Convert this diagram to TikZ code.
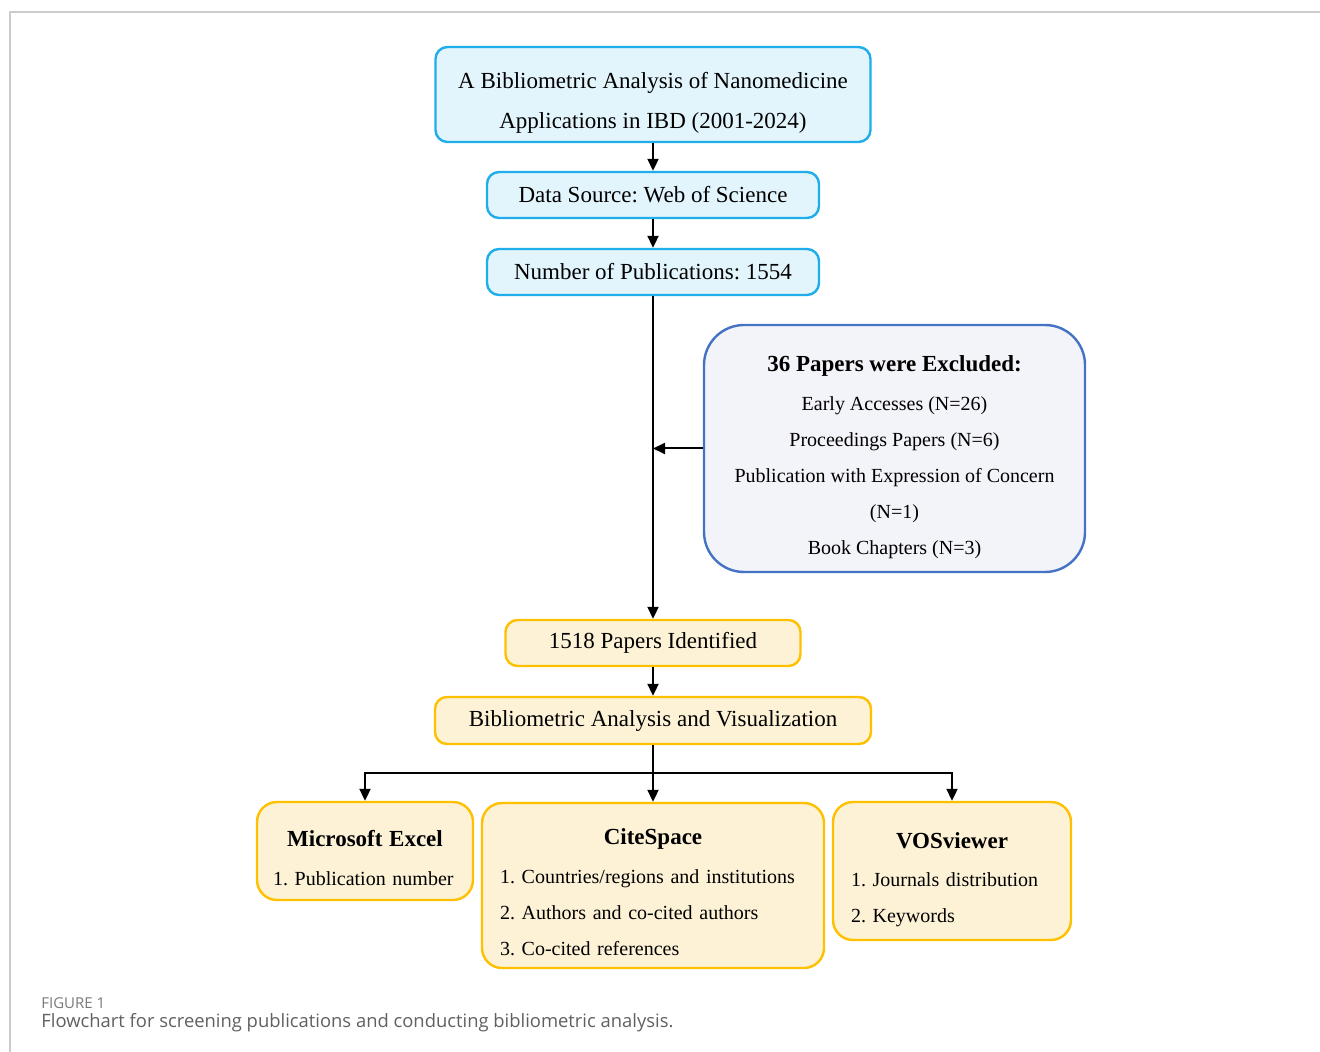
\documentclass[tikz,border=0pt]{standalone}
\usepackage{fontspec}
\setmainfont{Liberation Serif}
\newfontfamily\captionfont{Open Sans}
\usetikzlibrary{positioning}
\usetikzlibrary{arrows.meta}
\definecolor{wosblue}{HTML}{1FAEEA}
\definecolor{wosfill}{HTML}{E2F4FC}
\definecolor{exclblue}{HTML}{4472C4}
\definecolor{exclfill}{HTML}{F3F3FA}
\definecolor{toolgold}{HTML}{FFC000}
\definecolor{toolfill}{HTML}{FDF2D6}
\definecolor{capgray}{HTML}{606060}
\newcommand{\topgap}[1]{\rule{0pt}{#1}}
\frenchspacing
\tikzset{
    bluebox/.style={draw=wosblue,fill=wosfill,line width=1.2pt,rounded corners=6pt,
        align=center,font=\fontsize{11.5}{20}\selectfont},
    goldbox/.style={draw=toolgold,fill=toolfill,line width=1.2pt,rounded corners=6pt,
        align=center,font=\fontsize{11.5}{20}\selectfont},
    toolbox/.style={goldbox,rounded corners=10pt,align=left,inner xsep=8pt,
        font=\fontsize{10}{18}\selectfont},
    flow/.style={-{Triangle[length=6pt,width=5.5pt]},line width=1pt},
}

\begin{document}
\begin{tikzpicture}[x=0.5pt,y=-0.5pt]
    \useasboundingbox (0,0) rectangle (1320,1052);
    \draw[black!20,line width=0.6pt] (1320,12) -- (10,12) -- (10,1052);

    % screening column
    \node[bluebox,minimum width=217.5pt,minimum height=47.5pt] (title) at (653,94.5)
        {\topgap{16.5pt}A Bibliometric Analysis of Nanomedicine\\Applications in IBD (2001-2024)};
    \node[bluebox,minimum width=166pt,minimum height=23pt] (source) at (653,195)
        {Data Source: Web of Science};
    \node[bluebox,minimum width=166pt,minimum height=23pt] (pubs) at (653,272)
        {Number of Publications: 1554};
    \node[goldbox,minimum width=147.5pt,minimum height=23pt] (found) at (653,643)
        {1518 Papers Identified};
    \node[goldbox,minimum width=218pt,minimum height=23.5pt] (bav) at (653,720.5)
        {Bibliometric Analysis and Visualization};

    \node[draw=exclblue,fill=exclfill,line width=1.2pt,rounded corners=20pt,
        minimum width=190.5pt,minimum height=123.5pt,align=center,
        font=\fontsize{10}{18}\selectfont] (excl) at (894.5,448.5)
        {\topgap{17pt}{\fontsize{11.5}{18}\selectfont\bfseries 36 Papers were Excluded:}\\[1.5pt]
         Early Accesses (N=26)\\
         Proceedings Papers (N=6)\\
         Publication with Expression of Concern\\
         (N=1)\\
         Book Chapters (N=3)};

    % tools
    \node[toolbox,minimum width=108pt,minimum height=49pt,text width=92pt] (excel) at (365,851)
        {\topgap{15pt}\makebox[\hsize]{\fontsize{11.5}{19}\selectfont\bfseries Microsoft Excel}\\[1.5pt]
         1. Publication number};
    \node[toolbox,minimum width=171pt,minimum height=82.5pt,text width=153pt,inner xsep=9pt] (cite) at (653,885.5)
        {\topgap{15pt}\makebox[\hsize]{\fontsize{11.5}{19}\selectfont\bfseries CiteSpace}\\[1.5pt]
         1. Countries/regions and institutions\\
         2. Authors and co-cited authors\\
         3. Co-cited references};
    \node[toolbox,minimum width=119pt,minimum height=69pt,text width=101pt,inner xsep=9pt] (vos) at (952,871)
        {\topgap{17pt}\makebox[\hsize]{\fontsize{11.5}{19}\selectfont\bfseries VOSviewer}\\[1pt]
         1. Journals distribution\\
         2. Keywords};

    \draw[flow] (title) -- (source);
    \draw[flow] (source) -- (pubs);
    \draw[flow] (pubs) -- (found);
    \draw[flow] (excl.west) -- (excl.west -| found);
    \draw[flow] (found) -- (bav);

    \coordinate (fork) at (653,773);
    \draw[line width=1pt] (bav) -- (fork);
    \draw[flow] (fork) -| (excel);
    \draw[flow] (fork) -- (cite);
    \draw[flow] (fork) -| (vos);

    % caption
    \node[anchor=west,inner sep=0pt,text=capgray!85,font=\captionfont\fontsize{7.5}{8}\selectfont]
        (figlabel) at (41,1003) {FIGURE 1};
    \node[anchor=west,inner sep=0pt,text=capgray,font=\captionfont\fontsize{9.2}{10}\selectfont]
        (figcaption) at (41,1023) {Flowchart for screening publications and conducting bibliometric analysis.};
\end{tikzpicture}
\end{document}
